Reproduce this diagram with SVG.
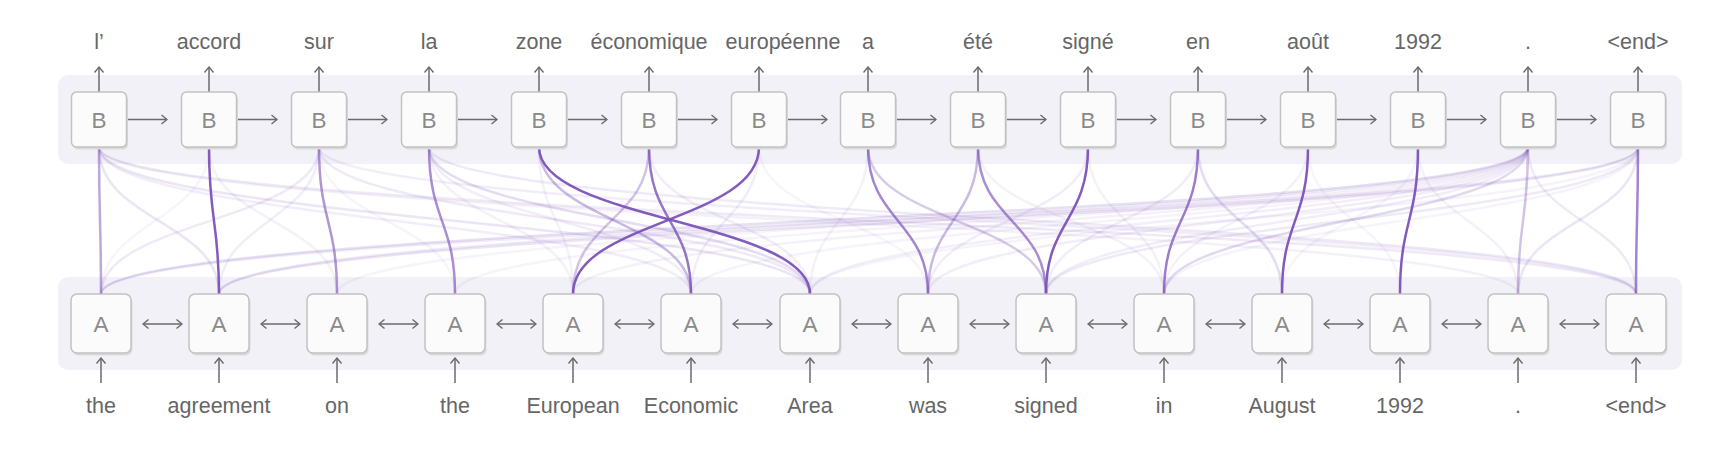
<svg xmlns="http://www.w3.org/2000/svg" width="1733" height="471" viewBox="0 0 1733 471">
<defs>
<style>
.panel{fill:#f2f1f7}
.bx{fill:#fbfbfb;stroke:#c2c2c2;stroke-width:1.5}
.sh{fill:#d9d9de}
.lt{font-family:"Liberation Sans",Arial,sans-serif;font-size:22.5px;fill:#8a8a8a;text-anchor:middle}
.lbl{font-family:"Liberation Sans",Arial,sans-serif;font-size:21.5px;fill:#666;text-anchor:middle}
.ar line{stroke:#6a6a6a;stroke-width:1.5;fill:none}
.c path{fill:none;stroke:#7b52b8;stroke-width:2.5}
</style>
<marker id="m" viewBox="0 0 11 11" refX="10" refY="5.5" markerWidth="11" markerHeight="11" markerUnits="userSpaceOnUse" orient="auto-start-reverse">
<path d="M4.5,1 L10,5.5 L4.5,10" fill="none" stroke="#6a6a6a" stroke-width="1.4"/>
</marker>
</defs>
<rect width="1733" height="471" fill="#fff"/>
<rect class="panel" x="58" y="75" width="1624" height="89" rx="10"/>
<rect class="panel" x="58" y="277" width="1624" height="93" rx="10"/>

<g id="connectors" class="c">
<path stroke-opacity="0.15" d="M99 147C99 221 219 221 219 294"/>
<path stroke-opacity="0.1" d="M99 147C99 221 691 221 691 294"/>
<path stroke-opacity="0.15" d="M99 147C99 221 810 221 810 294"/>
<path stroke-opacity="0.08" d="M99 147C99 221 1518 221 1518 294"/>
<path stroke-opacity="0.12" d="M99 147C99 221 1636 221 1636 294"/>
<path stroke-opacity="0.12" d="M319 147C319 221 101 221 101 294"/>
<path stroke-opacity="0.1" d="M319 147C319 221 219 221 219 294"/>
<path stroke-opacity="0.12" d="M319 147C319 221 810 221 810 294"/>
<path stroke-opacity="0.1" d="M319 147C319 221 1636 221 1636 294"/>
<path stroke-opacity="0.1" d="M429 147C429 221 691 221 691 294"/>
<path stroke-opacity="0.2" d="M429 147C429 221 810 221 810 294"/>
<path stroke-opacity="0.12" d="M429 147C429 221 1636 221 1636 294"/>
<path stroke-opacity="0.08" d="M209 147C209 221 337 221 337 294"/>
<path stroke-opacity="0.06" d="M209 147C209 221 101 221 101 294"/>
<path stroke-opacity="0.18" d="M1528 147C1528 221 101 221 101 294"/>
<path stroke-opacity="0.12" d="M1528 147C1528 221 219 221 219 294"/>
<path stroke-opacity="0.07" d="M1528 147C1528 221 337 221 337 294"/>
<path stroke-opacity="0.07" d="M1528 147C1528 221 455 221 455 294"/>
<path stroke-opacity="0.08" d="M1528 147C1528 221 573 221 573 294"/>
<path stroke-opacity="0.07" d="M1528 147C1528 221 691 221 691 294"/>
<path stroke-opacity="0.09" d="M1528 147C1528 221 810 221 810 294"/>
<path stroke-opacity="0.1" d="M1528 147C1528 221 928 221 928 294"/>
<path stroke-opacity="0.1" d="M1528 147C1528 221 1046 221 1046 294"/>
<path stroke-opacity="0.22" d="M1528 147C1528 221 1164 221 1164 294"/>
<path stroke-opacity="0.12" d="M1528 147C1528 221 1636 221 1636 294"/>
<path stroke-opacity="0.1" d="M1638 147C1638 221 101 221 101 294"/>
<path stroke-opacity="0.15" d="M1638 147C1638 221 219 221 219 294"/>
<path stroke-opacity="0.07" d="M1638 147C1638 221 810 221 810 294"/>
<path stroke-opacity="0.12" d="M1638 147C1638 221 1046 221 1046 294"/>
<path stroke-opacity="0.07" d="M1638 147C1638 221 1164 221 1164 294"/>
<path stroke-opacity="0.15" d="M1638 147C1638 221 1518 221 1518 294"/>
<path stroke-opacity="0.08" d="M978 147C978 221 1164 221 1164 294"/>
<path stroke-opacity="0.1" d="M1088 147C1088 221 928 221 928 294"/>
<path stroke-opacity="0.1" d="M1198 147C1198 221 1046 221 1046 294"/>
<path stroke-opacity="0.08" d="M1308 147C1308 221 1164 221 1164 294"/>
<path stroke-opacity="0.1" d="M759 147C759 221 691 221 691 294"/>
<path stroke-opacity="0.1" d="M649 147C649 221 810 221 810 294"/>
<path stroke-opacity="0.08" d="M1418 147C1418 221 1518 221 1518 294"/>
<path stroke-opacity="0.08" d="M539 147C539 221 573 221 573 294"/>
<path stroke-opacity="0.08" d="M429 147C429 221 573 221 573 294"/>
<path stroke-opacity="0.06" d="M319 147C319 221 455 221 455 294"/>
<path stroke-opacity="0.08" d="M1088 147C1088 221 1164 221 1164 294"/>
<path stroke-opacity="0.06" d="M1308 147C1308 221 1400 221 1400 294"/>
<path stroke-opacity="0.06" d="M1418 147C1418 221 1282 221 1282 294"/>
<path stroke-opacity="0.08" d="M868 147C868 221 810 221 810 294"/>
<path stroke-opacity="0.06" d="M759 147C759 221 928 221 928 294"/>
<path stroke-opacity="0.35" d="M649 147C649 221 573 221 573 294"/>
<path stroke-opacity="0.4" d="M539 147C539 221 691 221 691 294"/>
<path stroke-opacity="0.4" d="M978 147C978 221 928 221 928 294"/>
<path stroke-opacity="0.35" d="M1528 147C1528 221 1518 221 1518 294"/>
<path stroke-opacity="0.3" d="M868 147C868 221 1046 221 1046 294"/>
<path stroke-opacity="0.2" d="M1198 147C1198 221 1282 221 1282 294"/>
<path stroke-opacity="0.5" d="M99 147C99 221 101 221 101 294"/>
<path stroke-opacity="0.6" d="M319 147C319 221 337 221 337 294"/>
<path stroke-opacity="0.65" d="M429 147C429 221 455 221 455 294"/>
<path stroke-opacity="0.8" stroke-width="2.8" d="M649 147C649 221 691 221 691 294"/>
<path stroke-opacity="0.7" d="M868 147C868 221 928 221 928 294"/>
<path stroke-opacity="0.65" d="M978 147C978 221 1046 221 1046 294"/>
<path stroke-opacity="0.75" d="M1198 147C1198 221 1164 221 1164 294"/>
<path stroke-opacity="0.7" d="M1638 147C1638 221 1636 221 1636 294"/>
<path stroke-opacity="0.95" stroke-width="3" d="M209 147C209 221 219 221 219 294"/>
<path stroke-opacity="0.95" stroke-width="3" d="M539 147C539 221 810 221 810 294"/>
<path stroke-opacity="0.95" stroke-width="3" d="M759 147C759 221 573 221 573 294"/>
<path stroke-opacity="0.95" stroke-width="3" d="M1088 147C1088 221 1046 221 1046 294"/>
<path stroke-opacity="0.95" stroke-width="3" d="M1308 147C1308 221 1282 221 1282 294"/>
<path stroke-opacity="0.95" stroke-width="3" d="M1418 147C1418 221 1400 221 1400 294"/>
</g>

<g id="arrows" class="ar">
<line x1="99" y1="92" x2="99" y2="67" marker-end="url(#m)"/>
<line x1="209" y1="92" x2="209" y2="67" marker-end="url(#m)"/>
<line x1="319" y1="92" x2="319" y2="67" marker-end="url(#m)"/>
<line x1="429" y1="92" x2="429" y2="67" marker-end="url(#m)"/>
<line x1="539" y1="92" x2="539" y2="67" marker-end="url(#m)"/>
<line x1="649" y1="92" x2="649" y2="67" marker-end="url(#m)"/>
<line x1="759" y1="92" x2="759" y2="67" marker-end="url(#m)"/>
<line x1="868" y1="92" x2="868" y2="67" marker-end="url(#m)"/>
<line x1="978" y1="92" x2="978" y2="67" marker-end="url(#m)"/>
<line x1="1088" y1="92" x2="1088" y2="67" marker-end="url(#m)"/>
<line x1="1198" y1="92" x2="1198" y2="67" marker-end="url(#m)"/>
<line x1="1308" y1="92" x2="1308" y2="67" marker-end="url(#m)"/>
<line x1="1418" y1="92" x2="1418" y2="67" marker-end="url(#m)"/>
<line x1="1528" y1="92" x2="1528" y2="67" marker-end="url(#m)"/>
<line x1="1638" y1="92" x2="1638" y2="67" marker-end="url(#m)"/>
<line x1="127" y1="119.5" x2="167" y2="119.5" marker-end="url(#m)"/>
<line x1="237" y1="119.5" x2="277" y2="119.5" marker-end="url(#m)"/>
<line x1="347" y1="119.5" x2="387" y2="119.5" marker-end="url(#m)"/>
<line x1="457" y1="119.5" x2="497" y2="119.5" marker-end="url(#m)"/>
<line x1="567" y1="119.5" x2="607" y2="119.5" marker-end="url(#m)"/>
<line x1="677" y1="119.5" x2="717" y2="119.5" marker-end="url(#m)"/>
<line x1="787" y1="119.5" x2="827" y2="119.5" marker-end="url(#m)"/>
<line x1="896" y1="119.5" x2="936" y2="119.5" marker-end="url(#m)"/>
<line x1="1006" y1="119.5" x2="1046" y2="119.5" marker-end="url(#m)"/>
<line x1="1116" y1="119.5" x2="1156" y2="119.5" marker-end="url(#m)"/>
<line x1="1226" y1="119.5" x2="1266" y2="119.5" marker-end="url(#m)"/>
<line x1="1336" y1="119.5" x2="1376" y2="119.5" marker-end="url(#m)"/>
<line x1="1446" y1="119.5" x2="1486" y2="119.5" marker-end="url(#m)"/>
<line x1="1556" y1="119.5" x2="1596" y2="119.5" marker-end="url(#m)"/>
<line x1="101" y1="383" x2="101" y2="358" marker-end="url(#m)"/>
<line x1="219" y1="383" x2="219" y2="358" marker-end="url(#m)"/>
<line x1="337" y1="383" x2="337" y2="358" marker-end="url(#m)"/>
<line x1="455" y1="383" x2="455" y2="358" marker-end="url(#m)"/>
<line x1="573" y1="383" x2="573" y2="358" marker-end="url(#m)"/>
<line x1="691" y1="383" x2="691" y2="358" marker-end="url(#m)"/>
<line x1="810" y1="383" x2="810" y2="358" marker-end="url(#m)"/>
<line x1="928" y1="383" x2="928" y2="358" marker-end="url(#m)"/>
<line x1="1046" y1="383" x2="1046" y2="358" marker-end="url(#m)"/>
<line x1="1164" y1="383" x2="1164" y2="358" marker-end="url(#m)"/>
<line x1="1282" y1="383" x2="1282" y2="358" marker-end="url(#m)"/>
<line x1="1400" y1="383" x2="1400" y2="358" marker-end="url(#m)"/>
<line x1="1518" y1="383" x2="1518" y2="358" marker-end="url(#m)"/>
<line x1="1636" y1="383" x2="1636" y2="358" marker-end="url(#m)"/>
<line x1="143" y1="324" x2="182" y2="324" marker-start="url(#m)" marker-end="url(#m)"/>
<line x1="261" y1="324" x2="300" y2="324" marker-start="url(#m)" marker-end="url(#m)"/>
<line x1="379" y1="324" x2="418" y2="324" marker-start="url(#m)" marker-end="url(#m)"/>
<line x1="497" y1="324" x2="536" y2="324" marker-start="url(#m)" marker-end="url(#m)"/>
<line x1="615" y1="324" x2="654" y2="324" marker-start="url(#m)" marker-end="url(#m)"/>
<line x1="733" y1="324" x2="772" y2="324" marker-start="url(#m)" marker-end="url(#m)"/>
<line x1="852" y1="324" x2="891" y2="324" marker-start="url(#m)" marker-end="url(#m)"/>
<line x1="970" y1="324" x2="1009" y2="324" marker-start="url(#m)" marker-end="url(#m)"/>
<line x1="1088" y1="324" x2="1127" y2="324" marker-start="url(#m)" marker-end="url(#m)"/>
<line x1="1206" y1="324" x2="1245" y2="324" marker-start="url(#m)" marker-end="url(#m)"/>
<line x1="1324" y1="324" x2="1363" y2="324" marker-start="url(#m)" marker-end="url(#m)"/>
<line x1="1442" y1="324" x2="1481" y2="324" marker-start="url(#m)" marker-end="url(#m)"/>
<line x1="1560" y1="324" x2="1599" y2="324" marker-start="url(#m)" marker-end="url(#m)"/>
</g>

<g id="B0"><rect class="sh" x="73" y="94.5" width="55" height="55" rx="5"/><rect class="bx" x="71.5" y="92" width="55" height="55" rx="5"/><text class="lt" x="99" y="127.5">B</text><text class="lbl" x="99" y="49">l’</text></g>
<g id="B1"><rect class="sh" x="183" y="94.5" width="55" height="55" rx="5"/><rect class="bx" x="181.5" y="92" width="55" height="55" rx="5"/><text class="lt" x="209" y="127.5">B</text><text class="lbl" x="209" y="49">accord</text></g>
<g id="B2"><rect class="sh" x="293" y="94.5" width="55" height="55" rx="5"/><rect class="bx" x="291.5" y="92" width="55" height="55" rx="5"/><text class="lt" x="319" y="127.5">B</text><text class="lbl" x="319" y="49">sur</text></g>
<g id="B3"><rect class="sh" x="403" y="94.5" width="55" height="55" rx="5"/><rect class="bx" x="401.5" y="92" width="55" height="55" rx="5"/><text class="lt" x="429" y="127.5">B</text><text class="lbl" x="429" y="49">la</text></g>
<g id="B4"><rect class="sh" x="513" y="94.5" width="55" height="55" rx="5"/><rect class="bx" x="511.5" y="92" width="55" height="55" rx="5"/><text class="lt" x="539" y="127.5">B</text><text class="lbl" x="539" y="49">zone</text></g>
<g id="B5"><rect class="sh" x="623" y="94.5" width="55" height="55" rx="5"/><rect class="bx" x="621.5" y="92" width="55" height="55" rx="5"/><text class="lt" x="649" y="127.5">B</text><text class="lbl" x="649" y="49">économique</text></g>
<g id="B6"><rect class="sh" x="733" y="94.5" width="55" height="55" rx="5"/><rect class="bx" x="731.5" y="92" width="55" height="55" rx="5"/><text class="lt" x="759" y="127.5">B</text><text class="lbl" x="783" y="49">européenne</text></g>
<g id="B7"><rect class="sh" x="842" y="94.5" width="55" height="55" rx="5"/><rect class="bx" x="840.5" y="92" width="55" height="55" rx="5"/><text class="lt" x="868" y="127.5">B</text><text class="lbl" x="868" y="49">a</text></g>
<g id="B8"><rect class="sh" x="952" y="94.5" width="55" height="55" rx="5"/><rect class="bx" x="950.5" y="92" width="55" height="55" rx="5"/><text class="lt" x="978" y="127.5">B</text><text class="lbl" x="978" y="49">été</text></g>
<g id="B9"><rect class="sh" x="1062" y="94.5" width="55" height="55" rx="5"/><rect class="bx" x="1060.5" y="92" width="55" height="55" rx="5"/><text class="lt" x="1088" y="127.5">B</text><text class="lbl" x="1088" y="49">signé</text></g>
<g id="B10"><rect class="sh" x="1172" y="94.5" width="55" height="55" rx="5"/><rect class="bx" x="1170.5" y="92" width="55" height="55" rx="5"/><text class="lt" x="1198" y="127.5">B</text><text class="lbl" x="1198" y="49">en</text></g>
<g id="B11"><rect class="sh" x="1282" y="94.5" width="55" height="55" rx="5"/><rect class="bx" x="1280.5" y="92" width="55" height="55" rx="5"/><text class="lt" x="1308" y="127.5">B</text><text class="lbl" x="1308" y="49">août</text></g>
<g id="B12"><rect class="sh" x="1392" y="94.5" width="55" height="55" rx="5"/><rect class="bx" x="1390.5" y="92" width="55" height="55" rx="5"/><text class="lt" x="1418" y="127.5">B</text><text class="lbl" x="1418" y="49">1992</text></g>
<g id="B13"><rect class="sh" x="1502" y="94.5" width="55" height="55" rx="5"/><rect class="bx" x="1500.5" y="92" width="55" height="55" rx="5"/><text class="lt" x="1528" y="127.5">B</text><text class="lbl" x="1528" y="49">.</text></g>
<g id="B14"><rect class="sh" x="1612" y="94.5" width="55" height="55" rx="5"/><rect class="bx" x="1610.5" y="92" width="55" height="55" rx="5"/><text class="lt" x="1638" y="127.5">B</text><text class="lbl" x="1638" y="49">&lt;end&gt;</text></g>

<g id="A0"><rect class="sh" x="72.5" y="296.5" width="60" height="59" rx="6"/><rect class="bx" x="71" y="294" width="60" height="59" rx="6"/><text class="lt" x="101" y="332">A</text><text class="lbl" x="101" y="413">the</text></g>
<g id="A1"><rect class="sh" x="190.5" y="296.5" width="60" height="59" rx="6"/><rect class="bx" x="189" y="294" width="60" height="59" rx="6"/><text class="lt" x="219" y="332">A</text><text class="lbl" x="219" y="413">agreement</text></g>
<g id="A2"><rect class="sh" x="308.5" y="296.5" width="60" height="59" rx="6"/><rect class="bx" x="307" y="294" width="60" height="59" rx="6"/><text class="lt" x="337" y="332">A</text><text class="lbl" x="337" y="413">on</text></g>
<g id="A3"><rect class="sh" x="426.5" y="296.5" width="60" height="59" rx="6"/><rect class="bx" x="425" y="294" width="60" height="59" rx="6"/><text class="lt" x="455" y="332">A</text><text class="lbl" x="455" y="413">the</text></g>
<g id="A4"><rect class="sh" x="544.5" y="296.5" width="60" height="59" rx="6"/><rect class="bx" x="543" y="294" width="60" height="59" rx="6"/><text class="lt" x="573" y="332">A</text><text class="lbl" x="573" y="413">European</text></g>
<g id="A5"><rect class="sh" x="662.5" y="296.5" width="60" height="59" rx="6"/><rect class="bx" x="661" y="294" width="60" height="59" rx="6"/><text class="lt" x="691" y="332">A</text><text class="lbl" x="691" y="413">Economic</text></g>
<g id="A6"><rect class="sh" x="781.5" y="296.5" width="60" height="59" rx="6"/><rect class="bx" x="780" y="294" width="60" height="59" rx="6"/><text class="lt" x="810" y="332">A</text><text class="lbl" x="810" y="413">Area</text></g>
<g id="A7"><rect class="sh" x="899.5" y="296.5" width="60" height="59" rx="6"/><rect class="bx" x="898" y="294" width="60" height="59" rx="6"/><text class="lt" x="928" y="332">A</text><text class="lbl" x="928" y="413">was</text></g>
<g id="A8"><rect class="sh" x="1017.5" y="296.5" width="60" height="59" rx="6"/><rect class="bx" x="1016" y="294" width="60" height="59" rx="6"/><text class="lt" x="1046" y="332">A</text><text class="lbl" x="1046" y="413">signed</text></g>
<g id="A9"><rect class="sh" x="1135.5" y="296.5" width="60" height="59" rx="6"/><rect class="bx" x="1134" y="294" width="60" height="59" rx="6"/><text class="lt" x="1164" y="332">A</text><text class="lbl" x="1164" y="413">in</text></g>
<g id="A10"><rect class="sh" x="1253.5" y="296.5" width="60" height="59" rx="6"/><rect class="bx" x="1252" y="294" width="60" height="59" rx="6"/><text class="lt" x="1282" y="332">A</text><text class="lbl" x="1282" y="413">August</text></g>
<g id="A11"><rect class="sh" x="1371.5" y="296.5" width="60" height="59" rx="6"/><rect class="bx" x="1370" y="294" width="60" height="59" rx="6"/><text class="lt" x="1400" y="332">A</text><text class="lbl" x="1400" y="413">1992</text></g>
<g id="A12"><rect class="sh" x="1489.5" y="296.5" width="60" height="59" rx="6"/><rect class="bx" x="1488" y="294" width="60" height="59" rx="6"/><text class="lt" x="1518" y="332">A</text><text class="lbl" x="1518" y="413">.</text></g>
<g id="A13"><rect class="sh" x="1607.5" y="296.5" width="60" height="59" rx="6"/><rect class="bx" x="1606" y="294" width="60" height="59" rx="6"/><text class="lt" x="1636" y="332">A</text><text class="lbl" x="1636" y="413">&lt;end&gt;</text></g>
</svg>
